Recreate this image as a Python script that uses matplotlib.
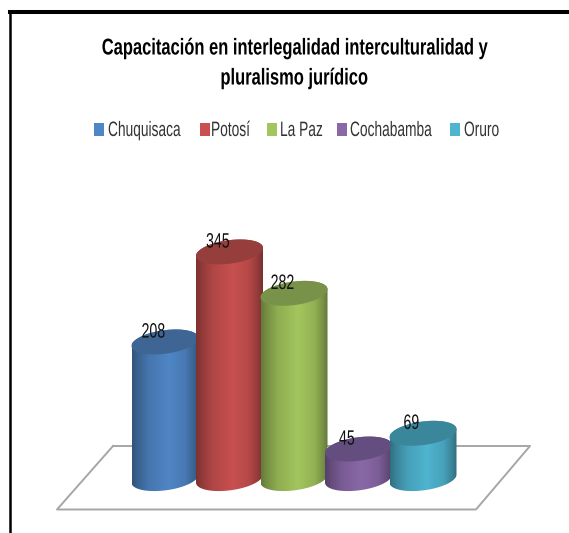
#!/usr/bin/env python3

import numpy as np
import matplotlib
matplotlib.use('Agg')
import matplotlib.pyplot as plt
from matplotlib.colors import to_rgb
from matplotlib.lines import Line2D
from matplotlib.patches import Polygon, Rectangle
from matplotlib.patheffects import AbstractPathEffect
from matplotlib.transforms import Affine2D

title_lines = ["Capacitación en interlegalidad interculturalidad y", "pluralismo jurídico"]
departments = ["Chuquisaca", "Potosí", "La Paz", "Cochabamba", "Oruro"]
values = [208, 345, 282, 45, 69]
side_colors = ["#4F86C6", "#C8504F", "#A3C55D", "#8A68A8", "#4FB4D0"]
top_colors = ["#3E6594", "#953E3C", "#79924A", "#644E7F", "#3A869B"]
legend_box_px = [94, 199.5, 267, 337, 450]
legend_text_px = [108, 211, 280, 350, 464]

W, H = 569, 533
PX_PER_CAT = 64.5
PX_PER_VAL = 0.657
X0_PX, Y0_PX = 165, 478.6

plt.rcParams['font.family'] = ['Liberation Sans', 'DejaVu Sans']


class Narrow(AbstractPathEffect):
    # squeeze text sideways around one pixel column, no condensed font is installed
    def __init__(self, cx, sx):
        super().__init__()
        self.cx = cx
        self.sx = sx

    def draw_path(self, renderer, gc, tpath, affine, rgbFace=None):
        squeeze = Affine2D().translate(-self.cx, 0).scale(self.sx, 1).translate(self.cx, 0)
        renderer.draw_path(gc, tpath, affine + squeeze, rgbFace)


def px_text(x, y, s, sx, **kw):
    t = fig.text(x / W, 1 - y / H, s, va='center', **kw)
    t.set_path_effects([Narrow(x, sx)])
    return t


fig = plt.figure(figsize=(W / 100, H / 100), dpi=100, facecolor='white')
ax = fig.add_axes([0, 0, 1, 1])
xlim = (-X0_PX / PX_PER_CAT, (W - X0_PX) / PX_PER_CAT)
ylim = ((Y0_PX - H) / PX_PER_VAL, Y0_PX / PX_PER_VAL)
ax.axis('off')

# floor of the 3d chart, in pixels from the top left of the figure
floor_px = np.array([(113, 446), (530, 446), (476, 509.5), (57, 509.5), (113, 446)])
ax.plot((floor_px[:, 0] - X0_PX) / PX_PER_CAT, (Y0_PX - floor_px[:, 1]) / PX_PER_VAL,
        color='#A6A6A6', lw=1.4, zorder=1)

half_w = 33.5 / PX_PER_CAT
half_h = 11.8 / PX_PER_VAL
shear = 4.0 / PX_PER_VAL


def ring(cx, cy, t):
    return cx + half_w * np.cos(t), cy + half_h * np.sin(t) + shear * np.cos(t)


stops_x = [0, 0.08, 0.25, 0.55, 0.8, 0.94, 1]
stops_v = [0.62, 0.72, 0.88, 1.0, 0.9, 0.72, 0.6]
shade = np.interp(np.linspace(0, 1, 128), stops_x, stops_v)

for i, (val, side, top) in enumerate(zip(values, side_colors, top_colors)):
    z = 2 + i
    front = np.linspace(0, -np.pi, 80)
    back = np.linspace(np.pi, 0, 80)
    bx, by = ring(i, 0, front)
    tx, ty = ring(i, val, back)
    body = Polygon(np.column_stack([np.r_[bx, tx], np.r_[by, ty]]), closed=True,
                   facecolor='none', edgecolor='none', transform=ax.transData, zorder=z)
    ax.add_patch(body)
    grad = shade[None, :, None] * np.array(to_rgb(side))[None, None, :]
    im = ax.imshow(grad, extent=(i - half_w, i + half_w, -half_h * 1.2, val + half_h * 1.2),
                   aspect='auto', interpolation='bilinear', zorder=z)
    im.set_clip_path(body)
    t = np.linspace(0, 2 * np.pi, 160)
    cx, cy = ring(i, val, t)
    ax.fill(cx, cy, color=top, lw=0, zorder=z + 0.1)

ax.set_xlim(xlim)
ax.set_ylim(ylim)

for i, val in enumerate(values):
    ax.text(i - 0.18, val + 15, str(val), ha='center', va='center', fontsize=15,
            color='#111111', zorder=20,
            path_effects=[Narrow(X0_PX + (i - 0.18) * PX_PER_CAT, 0.68)])

px_text(294, 48, title_lines[0], 0.72, ha='center', fontsize=16.5, fontweight='bold')
px_text(294, 78, title_lines[1], 0.72, ha='center', fontsize=16.5, fontweight='bold')

for name, color, bx, lx in zip(departments, side_colors, legend_box_px, legend_text_px):
    fig.add_artist(Rectangle((bx / W, 1 - 136 / H), 10 / W, 13 / H, facecolor=color,
                             edgecolor='none', transform=fig.transFigure))
    px_text(lx, 130.5, name, 0.66, ha='left', fontsize=15, color='#333333')

# black frame of the pasted picture
fig.add_artist(Line2D([9.5 / W, 1], [1 - 12 / H, 1 - 12 / H], color='black', lw=2.9))
fig.add_artist(Line2D([9.5 / W, 9.5 / W], [0, 1 - 12 / H], color='black', lw=1.8))

fig.savefig('out.png', dpi=100)
